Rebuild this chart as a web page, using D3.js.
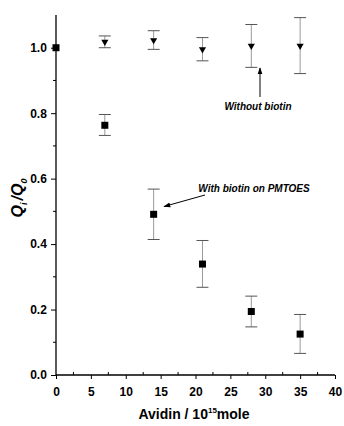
<!DOCTYPE html>
<html><head><meta charset="utf-8">
<script src="https://cdn.jsdelivr.net/npm/d3@7"></script>
<style>body{margin:0;background:#fff}svg{display:block}text{font-family:Arial,"Liberation Sans",sans-serif}</style>
</head><body>
<script>
const avidin = [0, 7, 14, 21, 28, 35];
const withBiotin = [1.0, 0.763, 0.491, 0.339, 0.194, 0.125];
const withErrLow = [null, 0.732, 0.414, 0.268, 0.147, 0.066];
const withErrHigh = [null, 0.796, 0.568, 0.411, 0.241, 0.185];
const withoutX = [7, 14, 21, 28, 35];
const withoutBiotin = [1.018, 1.023, 0.995, 1.006, 1.006];
const withoutErrLow = [1.0, 0.995, 0.96, 0.94, 0.921];
const withoutErrHigh = [1.036, 1.052, 1.031, 1.071, 1.092];
const xTicks = [0, 5, 10, 15, 20, 25, 30, 35, 40];
const yTicks = [0.0, 0.2, 0.4, 0.6, 0.8, 1.0];

const W = 344, H = 426;
const svg = d3.select("body").append("svg").attr("width", W).attr("height", H);
const x = d3.scaleLinear().domain([0, 40]).range([56, 335]);
const y = d3.scaleLinear().domain([0, 1.1]).range([375, 15]);

// axes
const xAxis = d3.axisBottom(x).tickValues(xTicks).tickSize(4).tickFormat(d3.format("d"));
const gx = svg.append("g").attr("transform", "translate(0,375)").call(xAxis);
gx.select(".domain").attr("d", `M56,0H335`);
const xMinor = d3.range(2.5, 40, 5);
gx.selectAll(".minor").data(xMinor).enter().append("line")
  .attr("x1", d => x(d)).attr("x2", d => x(d)).attr("y1", 0).attr("y2", -3).attr("stroke", "#000");

const yAxis = d3.axisLeft(y).tickValues(yTicks).tickSize(5).tickFormat(d3.format(".1f"));
const gy = svg.append("g").attr("transform", "translate(56,0)").call(yAxis);
gy.select(".domain").attr("d", `M0,${y(0)}V${y(1.1)}`);
const yMinor = [0.1, 0.3, 0.5, 0.7, 0.9];
gy.selectAll(".minor").data(yMinor).enter().append("line")
  .attr("y1", d => y(d)).attr("y2", d => y(d)).attr("x1", 0).attr("x2", -3).attr("stroke", "#000");

[gx, gy].forEach(g => {
  g.selectAll(".domain").attr("stroke", "#000").attr("stroke-width", 1.3);
  g.selectAll("line").attr("stroke", "#000");
  g.selectAll("text").attr("font-size", 12).attr("font-weight", "bold").attr("fill", "#000");
});
gx.selectAll(".tick text").attr("dy", "1.15em");
gy.selectAll(".tick text").attr("dx", "-0.1em");

// error bars
function errBars(xs, lo, hi) {
  const g = svg.append("g").attr("stroke", "#555").attr("stroke-width", 1);
  xs.forEach((xv, i) => {
    if (lo[i] == null) return;
    g.append("line").attr("x1", x(xv)).attr("x2", x(xv)).attr("y1", y(lo[i])).attr("y2", y(hi[i])).attr("stroke", "#999");
    g.append("line").attr("x1", x(xv) - 6).attr("x2", x(xv) + 6).attr("y1", y(lo[i])).attr("y2", y(lo[i]));
    g.append("line").attr("x1", x(xv) - 6).attr("x2", x(xv) + 6).attr("y1", y(hi[i])).attr("y2", y(hi[i]));
  });
}
errBars(avidin, withErrLow, withErrHigh);
errBars(withoutX, withoutErrLow, withoutErrHigh);

// markers
svg.append("g").selectAll("rect").data(avidin).enter().append("rect")
  .attr("x", (d) => x(d) - 3.5).attr("y", (d, i) => y(withBiotin[i]) - 3.5)
  .attr("width", 7).attr("height", 7).attr("fill", "#000");
const tri = d3.symbol().type(d3.symbolTriangle).size(22);
svg.append("g").selectAll("path").data(withoutX).enter().append("path")
  .attr("d", tri).attr("fill", "#000")
  .attr("transform", (d, i) => `translate(${x(d)},${y(withoutBiotin[i])}) rotate(180)`);

// annotations
svg.append("defs").append("marker").attr("id", "ah").attr("viewBox", "0 0 10 10")
  .attr("refX", 9).attr("refY", 5).attr("markerWidth", 7).attr("markerHeight", 7)
  .attr("orient", "auto").append("path").attr("d", "M0,1.5L10,5L0,8.5Z").attr("fill", "#000");
svg.append("line").attr("x1", 260).attr("y1", 97).attr("x2", 260).attr("y2", 68)
  .attr("stroke", "#000").attr("stroke-width", 1).attr("marker-end", "url(#ah)");
svg.append("text").attr("x", 258).attr("y", 110).attr("text-anchor", "middle")
  .attr("font-size", 10).attr("font-weight", "bold").attr("font-style", "italic").text("Without biotin");
svg.append("line").attr("x1", 205).attr("y1", 195).attr("x2", 164).attr("y2", 206.5)
  .attr("stroke", "#000").attr("stroke-width", 1).attr("marker-end", "url(#ah)");
svg.append("text").attr("x", 254).attr("y", 192).attr("text-anchor", "middle")
  .attr("font-size", 10).attr("font-weight", "bold").attr("font-style", "italic").text("With biotin on PMTOES");

// axis titles
const yl = svg.append("text").attr("transform", "translate(23,198) rotate(-90)").attr("text-anchor", "middle")
  .attr("font-size", 16).attr("font-weight", "bold").attr("font-style", "italic");
yl.append("tspan").text("Q");
yl.append("tspan").attr("font-size", 9).attr("dy", 4).text("i");
yl.append("tspan").attr("dy", -4).attr("dx", 2).text("/Q");
yl.append("tspan").attr("font-size", 9).attr("dy", 4).text("0");

const xl = svg.append("text").attr("x", 194).attr("y", 419).attr("text-anchor", "middle")
  .attr("font-size", 14).attr("font-weight", "bold");
xl.append("tspan").text("Avidin / 10");
xl.append("tspan").attr("font-size", 8).attr("dy", -6).text("15");
xl.append("tspan").attr("dy", 6).text("mole");
</script>
</body></html>
